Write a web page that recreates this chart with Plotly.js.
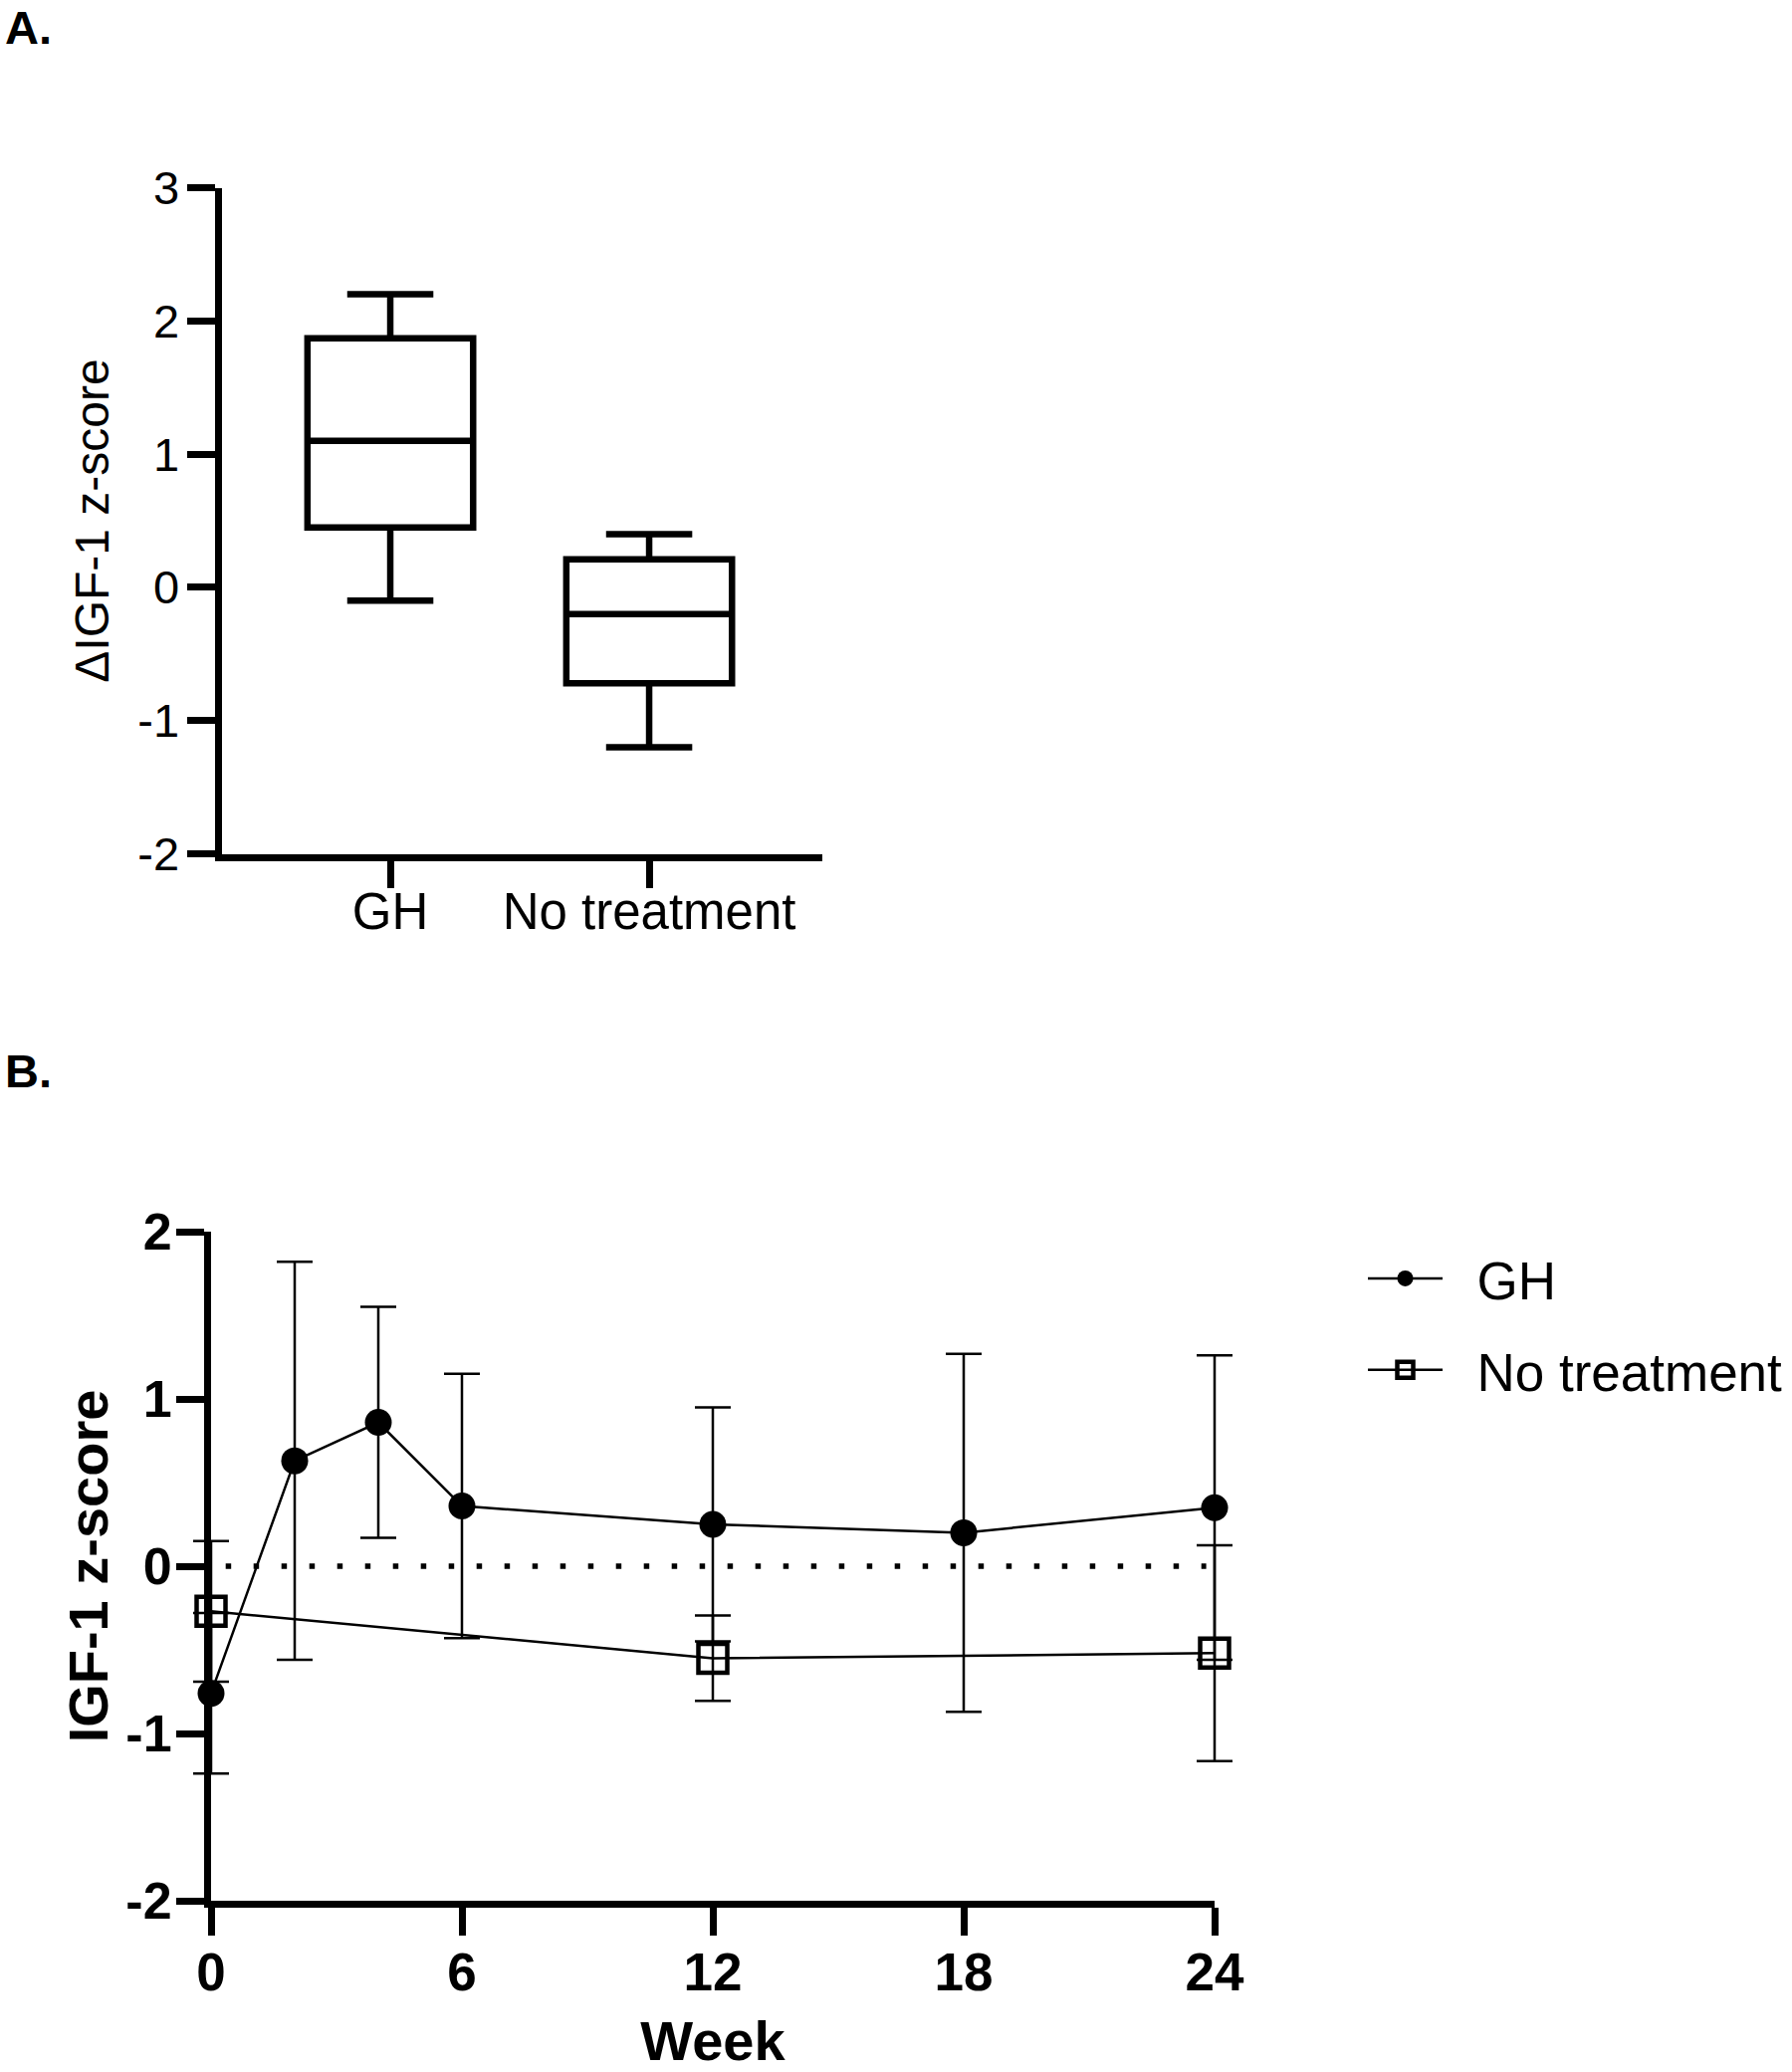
<!DOCTYPE html>
<html>
<head>
<meta charset="utf-8">
<script src="https://cdn.plot.ly/plotly-3.0.1.min.js"></script>
<style>html,body{margin:0;padding:0;background:#fff;}#chart{width:1800px;height:2081px;}</style>
</head>
<body>
<div id="chart"></div>
<script>
// ---- Panel A: box plot data ----
const groupsA = ['GH', 'No treatment'];
const lowA = [-0.1, -1.2];
const q1A = [0.45, -0.72];
const medA = [1.1, -0.2];
const q3A = [1.87, 0.21];
const highA = [2.2, 0.4];
const yTickValsA = [-2, -1, 0, 1, 2, 3];
const yTickTextA = ['-2', '-1', '0', '1', '2', '3'];

// ---- Panel B: time course data ----
const seriesNames = ['GH', 'No treatment'];
const weeksGH = [0, 2, 4, 6, 12, 18, 24];
const meanGH = [-0.76, 0.63, 0.86, 0.36, 0.25, 0.20, 0.35];
const sdGH = [0.48, 1.19, 0.69, 0.79, 0.70, 1.07, 0.91];
const weeksNT = [0, 12, 24];
const meanNT = [-0.27, -0.55, -0.52];
const sdNT = [0.42, 0.255, 0.645];
const xTickValsB = [0, 6, 12, 18, 24];
const xTickTextB = ['0', '6', '12', '18', '24'];
const yTickValsB = [-2, -1, 0, 1, 2];
const yTickTextB = ['-2', '-1', '0', '1', '2'];

const FONT = 'Arial, "Liberation Sans", Helvetica, sans-serif';
const W = 1800, H = 2081;
const px = v => v / W;
const py = v => 1 - v / H;
const pad = '\u00a0\u00a0';

const traces = [
  {
    type: 'box',
    x: groupsA,
    lowerfence: lowA,
    q1: q1A,
    median: medA,
    q3: q3A,
    upperfence: highA,
    boxpoints: false,
    width: 0.64,
    whiskerwidth: 0.52,
    line: {color: '#000', width: 6.5},
    fillcolor: '#fff',
    xaxis: 'x', yaxis: 'y',
    showlegend: false,
    hoverinfo: 'skip'
  },
  {
    type: 'scatter',
    mode: 'lines+markers',
    name: pad + seriesNames[0],
    x: weeksGH,
    y: meanGH,
    error_y: {type: 'data', array: sdGH, visible: true, color: '#000', thickness: 2.5, width: 18},
    line: {color: '#000', width: 2.5},
    marker: {symbol: 'circle', size: 27, color: '#000'},
    cliponaxis: false,
    xaxis: 'x2', yaxis: 'y2',
    legendgroup: 'gh'
  },
  {
    type: 'scatter',
    mode: 'lines+markers',
    name: pad + seriesNames[1],
    x: weeksNT,
    y: meanNT,
    error_y: {type: 'data', array: sdNT, visible: true, color: '#000', thickness: 2.5, width: 18},
    line: {color: '#000', width: 2.5},
    marker: {symbol: 'square-open', size: 29, color: '#000', line: {width: 4.5, color: '#000'}},
    cliponaxis: false,
    xaxis: 'x2', yaxis: 'y2',
    legendgroup: 'nt'
  }
];

const axCommon = {
  showline: true, linecolor: '#000', linewidth: 7,
  ticks: 'outside', tickcolor: '#000', tickwidth: 7, ticklen: 28,
  showgrid: false, zeroline: false, fixedrange: true
};

const layout = {
  width: W, height: H,
  margin: {l: 0, r: 0, t: 0, b: 0},
  paper_bgcolor: '#fff', plot_bgcolor: 'rgba(0,0,0,0)',
  font: {family: FONT, color: '#000'},
  showlegend: true,
  legend: {
    x: px(1369), y: py(1243), xanchor: 'left', yanchor: 'top',
    font: {family: FONT, size: 53, color: '#000'},
    traceorder: 'grouped', tracegroupgap: 20,
    itemwidth: 75, bgcolor: 'rgba(0,0,0,0)'
  },
  xaxis: Object.assign({}, axCommon, {
    domain: [px(222.5), px(826)], anchor: 'y',
    type: 'category', range: [-0.652, 1.669], ticklen: 27,
    ticklabelstandoff: -20,
    tickfont: {family: FONT, size: 51, color: '#000'}
  }),
  yaxis: Object.assign({}, axCommon, {
    domain: [py(857.5), py(188.5)], anchor: 'x',
    range: [-2, 3], tickmode: 'array', tickvals: yTickValsA, ticktext: yTickTextA,
    ticklabelstandoff: -2,
    tickfont: {family: FONT, size: 47, color: '#000'},
    title: {text: 'ΔIGF-1 z-score', font: {family: FONT, size: 48, color: '#000'}, standoff: 16}
  }),
  xaxis2: Object.assign({}, axCommon, {
    domain: [px(212), px(1220)], anchor: 'y2', layer: 'below traces',
    range: [0, 24], tickmode: 'array', tickvals: xTickValsB, ticktext: xTickTextB,
    ticklabelstandoff: -9,
    tickfont: {family: FONT, size: 53, color: '#000', weight: 700},
    title: {text: 'Week', font: {family: FONT, size: 56, color: '#000', weight: 700}, standoff: 35}
  }),
  yaxis2: Object.assign({}, axCommon, {
    domain: [py(1909), py(1237)], anchor: 'x2', layer: 'below traces',
    range: [-2, 2], tickmode: 'array', tickvals: yTickValsB, ticktext: yTickTextB,
    ticklabelstandoff: -6,
    tickfont: {family: FONT, size: 52, color: '#000', weight: 700},
    title: {text: 'IGF-1 z-score', font: {family: FONT, size: 56, color: '#000', weight: 700}, standoff: 2}
  }),
  shapes: [
    {type: 'line', xref: 'x2', yref: 'y2', x0: 0.35, x1: 23.8, y0: 0, y1: 0,
     line: {color: '#000', width: 5.5, dash: '5.5px,22.5px'}, layer: 'below'}
  ],
  annotations: [
    {text: 'A.', xref: 'paper', yref: 'paper', x: px(3), y: py(27), xanchor: 'left', yanchor: 'middle',
     showarrow: false, font: {family: FONT, size: 47, color: '#000', weight: 700}},
    {text: 'B.', xref: 'paper', yref: 'paper', x: px(3), y: py(1075), xanchor: 'left', yanchor: 'middle',
     showarrow: false, font: {family: FONT, size: 47, color: '#000', weight: 700}}
  ]
};

Plotly.newPlot('chart', traces, layout, {displayModeBar: false, staticPlot: true}).then(gd => {
  // let the error-bar caps at week 0 and week 24 extend past the axis ends, as in the original
  gd.querySelectorAll('.scatterlayer, .scatterlayer *').forEach(el => el.removeAttribute('clip-path'));
});
</script>
</body>
</html>
